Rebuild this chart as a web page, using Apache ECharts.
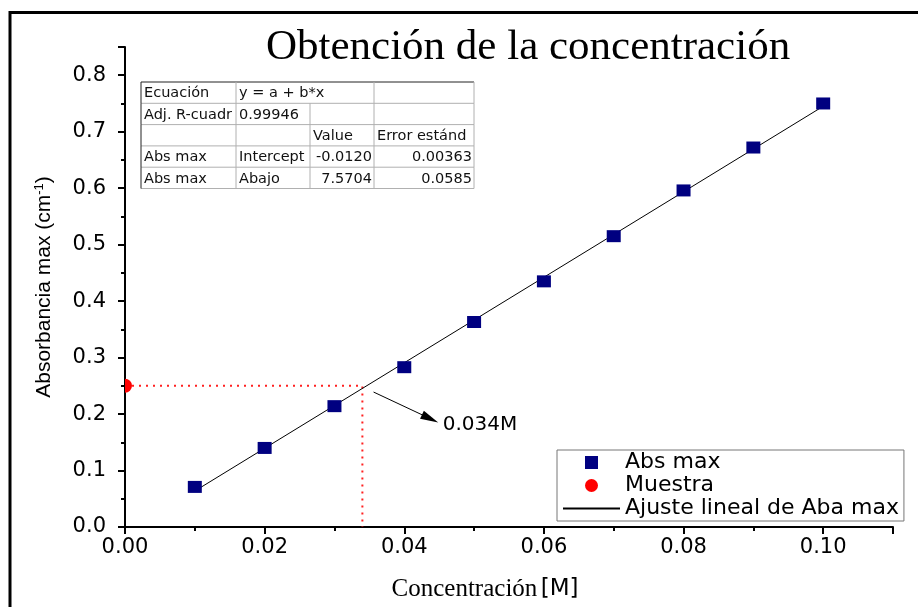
<!DOCTYPE html>
<html>
<head>
<meta charset="utf-8">
<script src="https://cdn.jsdelivr.net/npm/echarts@6/dist/echarts.min.js"></script>
<style>html,body{margin:0;padding:0;background:#fff}#c{width:918px;height:607px}</style>
</head>
<body>
<div id="c"></div>
<script>
// ---- data ----
const concX = [0.01, 0.02, 0.03, 0.04, 0.05, 0.06, 0.07, 0.08, 0.09, 0.10];
const absY  = [0.071, 0.140, 0.214, 0.283, 0.363, 0.435, 0.515, 0.596, 0.672, 0.750];
const fitX = [0.01, 0.10];
const fitY = [0.0637, 0.7450];
const sampleX = [0.0];
const sampleY = [0.25];
const sampleConc = 0.034;
const arrowFrom = [0.0356, 0.239];
const arrowTo = [0.0437, 0.192];
const arrowLabel = '0.034M';
const tableRows = [
  ['Ecuación', 'y = a + b*x', '', ''],
  ['Adj. R-cuadr', '0.99946', '', ''],
  ['', '', 'Value', 'Error estánd'],
  ['Abs max', 'Intercept', '-0.0120', '0.00363'],
  ['Abs max', 'Abajo', '7.5704', '0.0585']
];
const legendNames = ['Abs max', 'Muestra', 'Ajuste lineal de Aba max'];

// ---- table graphic (layout) ----
const colX = [141, 236, 310, 374, 474];
const rowY = [82, 103.3, 124.6, 145.9, 167.2, 188.5];
const tblG = [];
const grey = '#b0b0b0';
for (let r = 0; r < rowY.length; r++) {
  tblG.push({type:'line', shape:{x1:colX[0], y1:rowY[r], x2:colX[4], y2:rowY[r]},
    style:{stroke: r === 0 ? '#222' : grey, lineWidth:1}});
}
for (let c = 0; c < colX.length; c++) {
  for (let r = 0; r < rowY.length - 1; r++) {
    if (r === 0 && c === 2) continue;
    tblG.push({type:'line', shape:{x1:colX[c], y1:rowY[r], x2:colX[c], y2:rowY[r+1]},
      style:{stroke: c === 0 ? '#222' : grey, lineWidth:1}});
  }
}
const rightAlign = (r, c) => (r >= 3 && c >= 2);
for (let r = 0; r < tableRows.length; r++) {
  for (let c = 0; c < 4; c++) {
    const t = tableRows[r][c];
    if (!t) continue;
    const ra = rightAlign(r, c);
    tblG.push({type:'text', x: ra ? colX[c+1] - 2 : colX[c] + 3, y:(rowY[r] + rowY[r+1]) / 2 + 1,
      style:{text:t, fill:'#111', font:'14.5px "DejaVu Sans", sans-serif',
        textAlign: ra ? 'right' : 'left', textVerticalAlign:'middle'}});
  }
}
tblG.push({type:'rect', shape:{x:10, y:12.5, width:1000, height:700},
  style:{fill:'none', stroke:'#000', lineWidth:3}, silent:true});

const chart = echarts.init(document.getElementById('c'), null, {renderer:'canvas'});
const sans = '"Liberation Sans", Arial, sans-serif';
const wide = '"DejaVu Sans", sans-serif';
const serif = '"Liberation Serif", "Times New Roman", serif';

chart.setOption({
  animation:false,
  backgroundColor:'#fff',
  title:{text:'Obtención de la concentración', left:261, top:21,
    textStyle:{fontFamily:serif, fontSize:43, fontWeight:'normal', color:'#000'}},
  grid:{left:125, right:25, top:47, bottom:80, containLabel:false},
  legend:{
    orient:'vertical', left:557, top:450,
    data:[
      {name:legendNames[0], icon:'path://M0,0L10,0L10,10L0,10Z'},
      {name:legendNames[1], icon:'circle'},
      {name:legendNames[2], itemStyle:{opacity:0}}
    ],
    itemWidth:57, itemHeight:13, itemGap:0,
    symbolKeepAspect:true,
    borderColor:'#777', borderWidth:1, padding:[1,5,1,5],
    textStyle:{fontFamily:wide, fontSize:22, lineHeight:23, color:'#000'}
  },
  xAxis:{
    type:'value', min:0, max:0.11, interval:0.02,
    name:'{a|Concentración} {b|[M]}', nameLocation:'middle', nameGap:50,
    nameTextStyle:{padding:[0,48,0,0], rich:{
      a:{fontFamily:serif, fontSize:25, color:'#000'},
      b:{fontFamily:wide, fontSize:23, color:'#000'}}},
    axisLine:{lineStyle:{color:'#000', width:2}},
    axisTick:{length:7, lineStyle:{color:'#000', width:2}},
    minorTick:{show:true, splitNumber:2, length:4, lineStyle:{color:'#000', width:2}},
    splitLine:{show:false},
    axisLabel:{fontFamily:wide, fontSize:21, color:'#000', margin:10, showMaxLabel:false,
      formatter:v => v.toFixed(2)}
  },
  yAxis:{
    type:'value', min:0, max:0.85, interval:0.1,
    name:'Absorbancia max (cm{s|-1})', nameLocation:'middle', nameGap:70, nameRotate:90,
    nameTextStyle:{fontFamily:sans, fontSize:21, color:'#000',
      rich:{s:{fontFamily:sans, fontSize:13, color:'#000', verticalAlign:'top', padding:[0,0,9,0]}}},
    axisLine:{show:true, lineStyle:{color:'#000', width:2}},
    axisTick:{show:true, length:7, lineStyle:{color:'#000', width:2}},
    minorTick:{show:true, splitNumber:2, length:4, lineStyle:{color:'#000', width:2}},
    splitLine:{show:false},
    axisLabel:{fontFamily:wide, fontSize:21, color:'#000', margin:19, showMaxLabel:false,
      formatter:v => v.toFixed(1)}
  },
  graphic:tblG,
  series:[
    {
      name:'guide', type:'line', silent:true, symbol:'none', z:1,
      data:[[sampleX[0], sampleY[0]], [sampleConc, sampleY[0]], [sampleConc, 0]],
      lineStyle:{color:'#ff2020', width:2, type:[2,5]},
      markLine:{
        silent:true, symbol:['none','triangle'], symbolSize:[9,18],
        lineStyle:{color:'#000', width:1, type:'solid'},
        label:{show:true, position:'end', formatter:arrowLabel, fontFamily:wide, fontSize:20, color:'#000', distance:14},
        data:[[{coord:arrowFrom}, {coord:arrowTo}]]
      }
    },
    {
      name:legendNames[2], type:'line', symbol:'none', z:2,
      data:fitX.map((x, i) => [x, fitY[i]]),
      lineStyle:{color:'#000', width:1},
      itemStyle:{color:'#000'}
    },
    {
      name:legendNames[0], type:'scatter', symbol:'rect', symbolSize:[14,12], z:3,
      data:concX.map((x, i) => [x, absY[i]]),
      itemStyle:{color:'#000080', opacity:1}
    },
    {
      name:legendNames[1], type:'custom', z:4,
      data:sampleX.map((x, i) => [x, sampleY[i]]),
      itemStyle:{color:'#ff0000'},
      renderItem:(params, api) => {
        const p = api.coord([api.value(0), api.value(1)]);
        return {type:'sector', shape:{cx:p[0], cy:p[1], r:7, r0:0,
          startAngle:-Math.PI/2, endAngle:Math.PI/2}, style:{fill:'#ff0000'}};
      }
    }
  ]
});
</script>
</body>
</html>
